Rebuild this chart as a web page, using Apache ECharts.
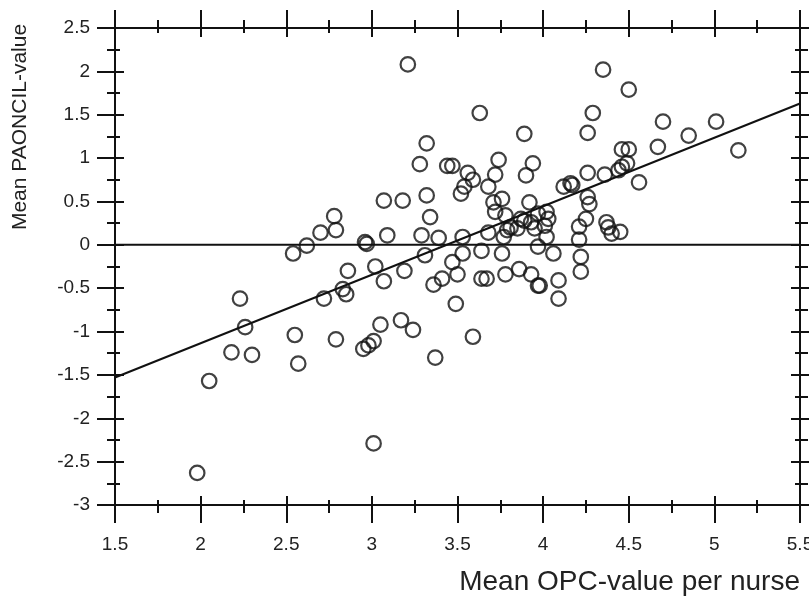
<!DOCTYPE html>
<html>
<head>
<meta charset="utf-8">
<script src="https://cdn.jsdelivr.net/npm/echarts@6/dist/echarts.min.js"></script>
<style>
  html, body { margin: 0; padding: 0; background: #fff; }
  #chart { width: 809px; height: 597px; }
</style>
</head>
<body>
<div id="chart"></div>
<script>
// mean OPC-value per nurse (x) and mean PAONCIL-value (y)
var opcX = [
  1.98, 2.05, 2.18, 2.23, 2.26, 2.30, 2.55, 2.57, 2.54, 2.62, 2.70, 2.79, 2.78, 2.72, 2.83, 2.85,
  2.86, 2.79, 2.95, 2.98, 3.01, 3.01, 2.96, 2.97, 3.02, 3.05, 3.07, 3.09, 3.07, 3.18, 3.17, 3.24,
  3.19, 3.21, 3.28, 3.32, 3.32, 3.34, 3.29, 3.31, 3.39, 3.36, 3.37, 3.41, 3.47, 3.50, 3.49, 3.53,
  3.53, 3.44, 3.47, 3.52, 3.54, 3.56, 3.59, 3.63, 3.59, 3.64, 3.64, 3.67, 3.68, 3.68, 3.72, 3.74,
  3.71, 3.76, 3.72, 3.78, 3.76, 3.77, 3.79, 3.78, 3.81, 3.86, 3.87, 3.85, 3.89, 3.89, 3.90, 3.94,
  3.92, 3.93, 3.95, 3.93, 3.97, 3.98, 3.97, 4.02, 4.03, 4.01, 3.97, 4.02, 4.06, 4.09, 4.09, 4.12,
  4.16, 4.17, 4.21, 4.21, 4.22, 4.22, 4.25, 4.26, 4.27, 4.26, 4.26, 4.29, 4.35, 4.36, 4.37, 4.38,
  4.40, 4.45, 4.44, 4.46, 4.49, 4.46, 4.50, 4.50, 4.56, 4.67, 4.70, 4.85, 5.01, 5.14
];
var paoncilY = [
  -2.63, -1.57, -1.24, -0.62, -0.95, -1.27, -1.04, -1.37, -0.10, -0.01, 0.14, 0.17, 0.33, -0.62, -0.51, -0.57,
  -0.30, -1.09, -1.20, -1.16, -1.11, -2.29, 0.03, 0.01, -0.25, -0.92, -0.42, 0.11, 0.51, 0.51, -0.87, -0.98,
  -0.30, 2.08, 0.93, 0.57, 1.17, 0.32, 0.11, -0.12, 0.08, -0.46, -1.30, -0.39, -0.20, -0.34, -0.68, -0.10,
  0.09, 0.91, 0.91, 0.59, 0.67, 0.83, 0.75, 1.52, -1.06, -0.07, -0.39, -0.39, 0.14, 0.67, 0.81, 0.98,
  0.49, 0.53, 0.38, 0.34, -0.10, 0.09, 0.17, -0.34, 0.20, -0.28, 0.30, 0.19, 0.28, 1.28, 0.80, 0.94,
  0.49, 0.26, 0.19, -0.34, -0.47, -0.47, 0.36, 0.38, 0.30, 0.22, -0.02, 0.09, -0.10, -0.41, -0.62, 0.67,
  0.71, 0.69, 0.21, 0.06, -0.14, -0.31, 0.30, 0.55, 0.47, 0.83, 1.29, 1.52, 2.02, 0.81, 0.26, 0.20,
  0.13, 0.15, 0.86, 0.90, 0.94, 1.10, 1.10, 1.79, 0.72, 1.13, 1.42, 1.26, 1.42, 1.09
];
// reference line at zero and the fitted regression line
var zeroX = [1.5, 5.5];
var zeroY = [0, 0];
var fitX = [1.5, 5.5];
var fitY = [-1.53, 1.63];

var xTicks = { min: 1.5, max: 5.5, interval: 0.5 };
var yTicks = { min: -3, max: 2.5, interval: 0.5 };

function pairs(xs, ys) {
  var out = [];
  for (var i = 0; i < xs.length; i++) out.push([xs[i], ys[i]]);
  return out;
}

var ink = "#111";
var lineStyle = { color: ink, width: 2 };

// ticks cross the frame: one axis draws the outside half, a twin draws the inside half
function makeAxis(base, pos, inside, withLabels) {
  return {
    type: "value",
    position: pos,
    min: base.min,
    max: base.max,
    interval: base.interval,
    axisLine: { show: true, onZero: false, lineStyle: lineStyle },
    axisTick: { show: true, inside: inside, length: inside ? 9 : 18, lineStyle: lineStyle },
    minorTick: { show: true, splitNumber: 2, length: inside ? 5 : 8, lineStyle: lineStyle },
    splitLine: { show: false },
    axisLabel: withLabels ? {
      show: true,
      margin: pos == "left" ? 25 : 30,
      color: "#222",
      fontFamily: "Liberation Sans, Arial, sans-serif",
      fontSize: 19,
      showMinLabel: true,
      showMaxLabel: true,
      hideOverlap: false
    } : { show: false }
  };
}

var myChart = echarts.init(document.getElementById("chart"), null, { renderer: "canvas" });
myChart.setOption({
  animation: false,
  backgroundColor: "#fff",
  grid: { left: 115, right: 9, top: 28, bottom: 92, containLabel: false, outerBoundsMode: "none" },
  xAxis: [
    makeAxis(xTicks, "bottom", false, true),
    makeAxis(xTicks, "bottom", true, false),
    makeAxis(xTicks, "top", false, false),
    makeAxis(xTicks, "top", true, false)
  ],
  yAxis: [
    makeAxis(yTicks, "left", false, true),
    makeAxis(yTicks, "left", true, false),
    makeAxis(yTicks, "right", false, false),
    makeAxis(yTicks, "right", true, false)
  ],
  graphic: [
    {
      type: "text",
      x: 20,
      y: 127,
      rotation: Math.PI / 2,
      style: {
        text: "Mean PAONCIL-value",
        fill: "#222",
        font: "21px Liberation Sans, Arial, sans-serif",
        textAlign: "center",
        textVerticalAlign: "middle"
      }
    },
    {
      type: "text",
      x: 800,
      y: 582,
      style: {
        text: "Mean OPC-value per nurse",
        fill: "#222",
        font: "28px Liberation Sans, Arial, sans-serif",
        textAlign: "right",
        textVerticalAlign: "middle"
      }
    }
  ],
  series: [
    {
      name: "zero",
      type: "line",
      data: pairs(zeroX, zeroY),
      symbol: "none",
      lineStyle: { color: ink, width: 2 },
      silent: true
    },
    {
      name: "fit",
      type: "line",
      data: pairs(fitX, fitY),
      symbol: "none",
      lineStyle: { color: ink, width: 2 },
      silent: true
    },
    {
      name: "nurses",
      type: "scatter",
      data: pairs(opcX, paoncilY),
      symbol: "circle",
      symbolSize: 14.5,
      itemStyle: { color: "rgba(0,0,0,0)", borderColor: ink, borderWidth: 2.2 }
    }
  ]
});
</script>
</body>
</html>
